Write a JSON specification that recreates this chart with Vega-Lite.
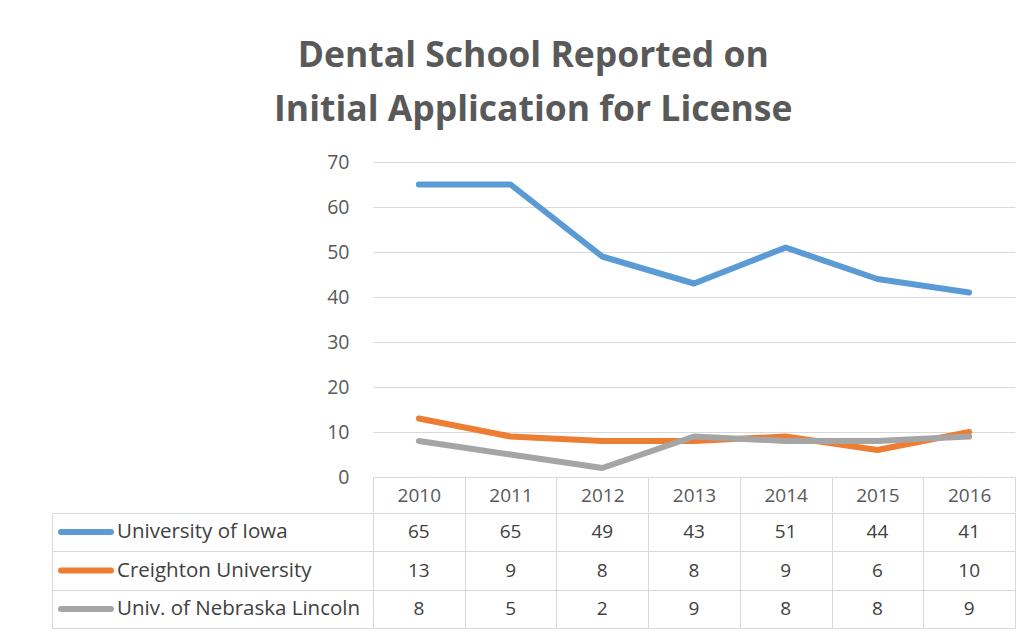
{
  "$schema": "https://vega.github.io/schema/vega-lite/v6.json",
  "background": "white",
  "padding": {"left": 51, "top": 39, "right": 10, "bottom": 5},
  "spacing": -3,
  "title": {
    "text": ["Dental School Reported on", "Initial Application for License"],
    "font": "Open Sans",
    "fontSize": 35.5,
    "fontWeight": "bold",
    "color": "#595959",
    "lineHeight": 54,
    "anchor": "middle",
    "frame": "bounds",
    "offset": 23.5
  },
  "data": {
    "values": [
      {"year": "2010", "school": "University of Iowa", "value": 65},
      {"year": "2011", "school": "University of Iowa", "value": 65},
      {"year": "2012", "school": "University of Iowa", "value": 49},
      {"year": "2013", "school": "University of Iowa", "value": 43},
      {"year": "2014", "school": "University of Iowa", "value": 51},
      {"year": "2015", "school": "University of Iowa", "value": 44},
      {"year": "2016", "school": "University of Iowa", "value": 41},
      {"year": "2010", "school": "Creighton University", "value": 13},
      {"year": "2011", "school": "Creighton University", "value": 9},
      {"year": "2012", "school": "Creighton University", "value": 8},
      {"year": "2013", "school": "Creighton University", "value": 8},
      {"year": "2014", "school": "Creighton University", "value": 9},
      {"year": "2015", "school": "Creighton University", "value": 6},
      {"year": "2016", "school": "Creighton University", "value": 10},
      {"year": "2010", "school": "Univ. of Nebraska Lincoln", "value": 8},
      {"year": "2011", "school": "Univ. of Nebraska Lincoln", "value": 5},
      {"year": "2012", "school": "Univ. of Nebraska Lincoln", "value": 2},
      {"year": "2013", "school": "Univ. of Nebraska Lincoln", "value": 9},
      {"year": "2014", "school": "Univ. of Nebraska Lincoln", "value": 8},
      {"year": "2015", "school": "Univ. of Nebraska Lincoln", "value": 8},
      {"year": "2016", "school": "Univ. of Nebraska Lincoln", "value": 9}
    ]
  },
  "vconcat": [
    {
      "width": 642,
      "height": 315,
      "view": {"stroke": null},
      "mark": {"type": "line", "strokeWidth": 6, "strokeCap": "round", "strokeJoin": "round"},
      "encoding": {
        "x": {
          "field": "year", "type": "ordinal", "bandPosition": 0.5,
          "scale": {"type": "band", "paddingInner": 0, "paddingOuter": 0},
          "axis": {"title": null, "tickBand": "extent", "tickSize": 35, "tickColor": "#d9d9d9", "domainColor": "#d9d9d9", "labelPadding": -26, "labelFont": "Open Sans", "labelFontSize": 19, "labelColor": "#595959", "labelAngle": 0, "grid": false}
        },
        "y": {
          "field": "value", "type": "quantitative",
          "scale": {"domain": [0, 70], "nice": false},
          "axis": {"title": null, "values": [0, 10, 20, 30, 40, 50, 60, 70], "domain": false, "ticks": false, "gridColor": "#d9d9d9", "labelPadding": 24, "labelFont": "Open Sans", "labelFontSize": 19.5, "labelColor": "#595959"}
        },
        "color": {
          "field": "school", "type": "nominal",
          "scale": {"domain": ["University of Iowa", "Creighton University", "Univ. of Nebraska Lincoln"], "range": ["#5B9BD5", "#ED7D31", "#A5A5A5"]},
          "legend": {
            "orient": "none", "legendX": -300, "legendY": 357, "title": null,
            "symbolType": "M-2.5,0H2.5", "symbolSize": 400, "symbolStrokeWidth": 6,
            "labelFont": "Open Sans", "labelFontSize": 20.5, "labelColor": "#404040",
            "rowPadding": 13.5, "labelOffset": 18, "labelLimit": 400,
            "encode": {"symbols": {"update": {"strokeCap": {"value": "round"}}}}
          }
        }
      }
    },
    {
      "width": 642,
      "height": 115,
      "view": {"stroke": "#d9d9d9"},
      "mark": {"type": "text", "font": "Open Sans", "fontSize": 19, "color": "#404040"},
      "encoding": {
        "x": {
          "field": "year", "type": "ordinal",
          "scale": {"type": "band", "paddingInner": 0, "paddingOuter": 0},
          "axis": {"title": null, "labels": false, "ticks": false, "domain": false, "grid": true, "tickBand": "extent", "gridColor": "#d9d9d9"}
        },
        "y": {
          "field": "school", "type": "nominal",
          "sort": ["University of Iowa", "Creighton University", "Univ. of Nebraska Lincoln"],
          "scale": {"type": "band", "paddingInner": 0, "paddingOuter": 0},
          "axis": {"title": null, "labels": false, "offset": 321, "tickSize": -321, "tickBand": "extent", "tickColor": "#d9d9d9", "domainColor": "#d9d9d9", "grid": true, "gridColor": "#d9d9d9"}
        },
        "text": {"field": "value", "type": "quantitative"}
      }
    }
  ]
}
